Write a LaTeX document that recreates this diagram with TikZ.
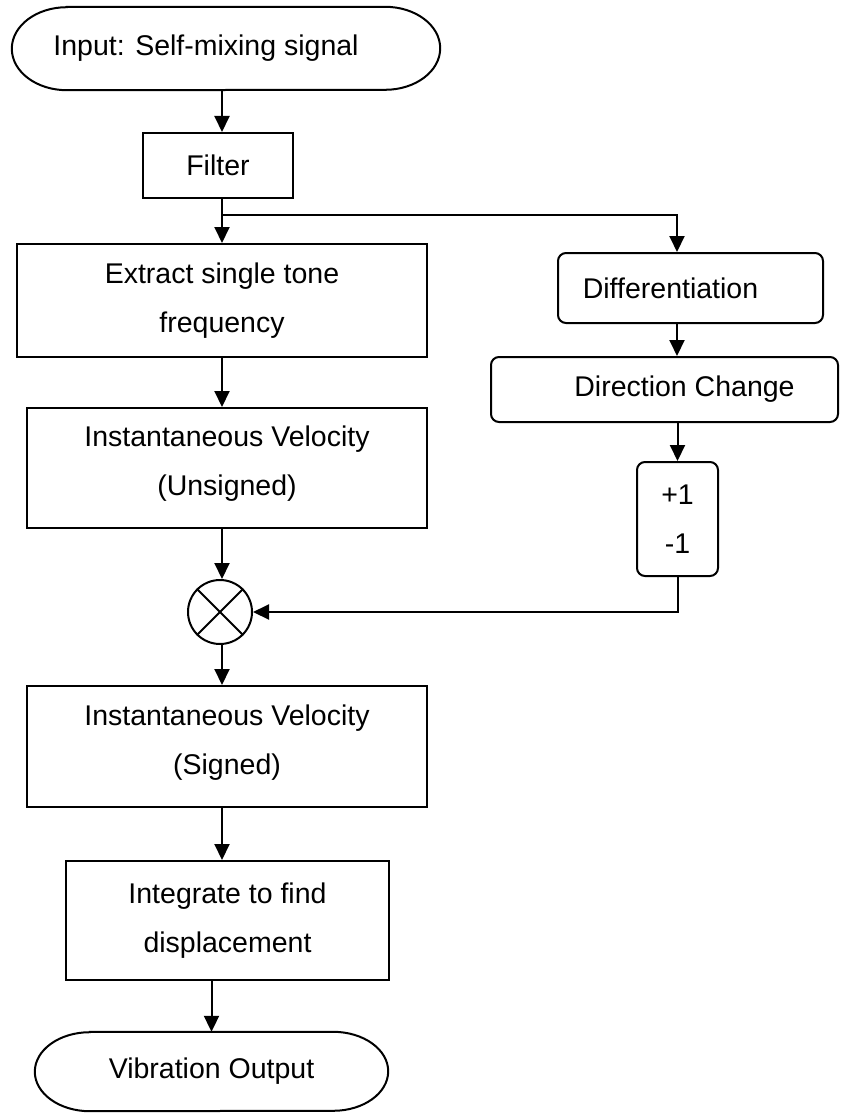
\documentclass[tikz,border=0pt]{standalone}
\usepackage{fontspec}
\setmainfont{Liberation Sans}
\usetikzlibrary{arrows.meta}
\begin{document}
\begin{tikzpicture}[x=1pt,y=-1pt,
  ln/.style={line width=2pt},
  txt/.style={font=\fontsize{28.5pt}{49pt}\selectfont, align=center, inner sep=0pt},
  box/.style={txt, draw, ln, rectangle},
  rbox/.style={box, rounded corners=8pt},
  term/.style={txt, rectangle, draw=none},
  arr/.style={ln, -{Triangle[length=16pt,width=15pt]}}
]
\useasboundingbox (0,0) rectangle (867,1113);
\coordinate (sp) at (222,0);
\coordinate (rx) at (677,0);

% nodes
\node[term, minimum width=428pt, minimum height=83pt] (inp) at (226,48.5) {Input: Self-mixing signal\hspace*{40pt}};
\node[box, minimum width=150pt, minimum height=65pt] (filter) at (218,165.5) {Filter};
\node[box, minimum width=410pt, minimum height=113pt] (extract) at (222,300.5) {Extract single tone\\frequency};
\node[box, minimum width=400pt, minimum height=120pt] (unsigned) at (227,468) {Instantaneous Velocity\\(Unsigned)\\[-35pt]};
\node[circle, draw, ln, minimum size=64pt, inner sep=0pt] (mult) at (220,612) {};
\node[box, minimum width=400pt, minimum height=121pt] (signed) at (227,746.5) {Instantaneous Velocity\\(Signed)\\[-35pt]};
\node[box, minimum width=323pt, minimum height=119pt] (integ) at (227.5,920.5) {Integrate to find\\displacement};
\node[term, minimum width=353pt, minimum height=79pt] (out) at (211.5,1071.5) {Vibration Output};

\node[rbox, minimum width=265pt, minimum height=70pt] (diff) at (690.5,288) {Differentiation\hspace*{40pt}};
\node[rbox, minimum width=347pt, minimum height=65pt] (dir) at (664.5,389.5) {\hspace*{40pt}Direction Change};
\node[rbox, minimum width=81pt, minimum height=114pt] (sign) at (677.5,519) {+1\\-1};

% terminal outlines
\draw[ln] ([xshift=55pt]inp.north west) -- ([xshift=-55pt]inp.north east)
  arc[start angle=90,end angle=-90,x radius=55pt,y radius=41.5pt]
  -- ([xshift=55pt]inp.south west)
  arc[start angle=270,end angle=90,x radius=55pt,y radius=41.5pt] -- cycle;
\draw[ln] ([xshift=55pt]out.north west) -- ([xshift=-55pt]out.north east)
  arc[start angle=90,end angle=-90,x radius=55pt,y radius=39.5pt]
  -- ([xshift=55pt]out.south west)
  arc[start angle=270,end angle=90,x radius=55pt,y radius=39.5pt] -- cycle;

% multiplier cross
\draw[ln] (mult.north west) -- (mult.south east);
\draw[ln] (mult.north east) -- (mult.south west);

% connectors
\coordinate (br) at (222,215);
\draw[arr] (inp.south -| sp) -- (filter.north -| sp);
\draw[arr] (filter.south -| sp) -- (extract.north -| sp);
\draw[arr] (br) -| (diff.north -| rx);
\draw[arr] (extract.south -| sp) -- (unsigned.north -| sp);
\draw[arr] (unsigned.south -| sp) -- (mult.north -| sp);
\draw[arr] (mult.south -| sp) -- (signed.north -| sp);
\draw[arr] (signed.south -| sp) -- (integ.north -| sp);
\draw[arr] (integ.south -| out.north) -- (out.north);
\draw[arr] (diff.south -| rx) -- (dir.north -| rx);
\draw[arr] (dir.south -| sign.north) -- (sign.north);
\draw[arr] (sign.south) |- (mult.east);
\end{tikzpicture}
\end{document}
